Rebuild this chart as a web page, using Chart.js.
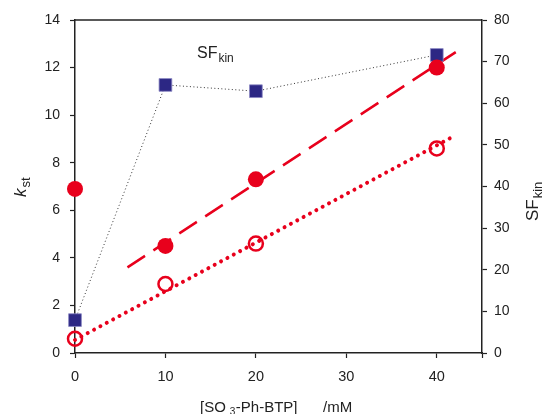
<!DOCTYPE html>
<html>
<head>
<meta charset="utf-8">
<script src="https://cdn.jsdelivr.net/npm/chart.js@4/dist/chart.umd.min.js"></script>
<style>body{margin:0;background:#fff}</style>
</head>
<body>
<canvas id="grafico" width="546" height="414"></canvas>
<script>
// datos
var concentracion = [0, 10, 20, 40];
var kstLleno = [6.9, 4.5, 7.3, 12.0];
var kstVacio = [0.6, 2.9, 4.6, 8.6];
var sfKin = [7.9, 64.4, 62.9, 71.6];
// extremos de las rectas de ajuste
var ajusteLlenoX = [5.8, 42.1];
var ajusteLlenoY = [3.6, 12.65];
var ajusteVacioX = [0, 42.1];
var ajusteVacioY = [0.55, 9.16];

var rojo = "#e8001c";
var azul = "#2c2784";
var fuente = "'Liberation Sans', Arial, sans-serif";

function puntos(xs, ys) {
    return xs.map(function (x, i) { return { x: x, y: ys[i] }; });
}

// texto con subindice
function textoSub(ctx, base, sub, x, y, tamBase, tamSub, baja, cursiva) {
    ctx.font = (cursiva ? "italic " : "") + tamBase + "px " + fuente;
    ctx.fillText(base, x, y);
    var w = ctx.measureText(base).width;
    ctx.font = tamSub + "px " + fuente;
    ctx.fillText(sub, x + w + 1, y + baja);
}

var textos = {
    id: "textos",
    afterDraw: function (chart) {
        var ctx = chart.ctx;
        var area = chart.chartArea;
        ctx.save();
        // linea superior del marco
        ctx.strokeStyle = "#222";
        ctx.lineWidth = 1.5;
        ctx.beginPath();
        ctx.moveTo(area.left, area.top);
        ctx.lineTo(area.right, area.top);
        ctx.stroke();

        ctx.fillStyle = "#222";
        ctx.textBaseline = "alphabetic";
        ctx.textAlign = "left";
        // etiqueta dentro del grafico
        textoSub(ctx, "SF", "kin", 197, 58, 16, 12, 4, false);

        // eje izquierdo
        ctx.save();
        ctx.translate(26, 197);
        ctx.rotate(-Math.PI / 2);
        textoSub(ctx, "k", "st", 0, 0, 17, 13, 4, true);
        ctx.restore();

        // eje derecho
        ctx.save();
        ctx.translate(538, 221);
        ctx.rotate(-Math.PI / 2);
        textoSub(ctx, "SF", "kin", 0, 0, 17, 13, 4, false);
        ctx.restore();

        // eje inferior
        ctx.font = "15px " + fuente;
        ctx.fillText("[SO", 200, 412);
        var w = ctx.measureText("[SO").width;
        ctx.font = "10px " + fuente;
        ctx.fillText("3", 200 + w + 4, 415);
        ctx.font = "15px " + fuente;
        ctx.fillText("-Ph-BTP]", 200 + w + 10, 412);
        ctx.fillText("/mM", 323, 412);
        ctx.restore();
    }
};

function ejeFijo(tam, vertical) {
    return function (scale) {
        if (vertical) scale.width = tam; else scale.height = tam;
    };
}

var contexto = document.getElementById("grafico").getContext("2d");
var grafico = new Chart(contexto, {
    type: "scatter",
    data: {
        datasets: [
            {
                label: "kst lleno",
                data: puntos(concentracion, kstLleno),
                yAxisID: "y",
                backgroundColor: rojo,
                borderColor: rojo,
                pointRadius: 8,
                pointBorderWidth: 0,
                clip: false,
                order: 0,
            },
            {
                label: "kst vacio",
                data: puntos(concentracion, kstVacio),
                yAxisID: "y",
                backgroundColor: "rgba(0,0,0,0)",
                borderColor: rojo,
                pointRadius: 7,
                pointBorderWidth: 2.5,
                clip: false,
                order: 1,
            },
            {
                label: "SFkin",
                data: puntos(concentracion, sfKin),
                yAxisID: "y2",
                showLine: true,
                borderColor: "#333",
                borderWidth: 1,
                borderDash: [1, 2.5],
                pointStyle: "rect",
                pointRadius: 9,
                pointBackgroundColor: azul,
                pointBorderColor: "#8c88c4",
                pointBorderWidth: 0.8,
                clip: false,
                order: 2,
            },
            {
                label: "ajuste lleno",
                data: puntos(ajusteLlenoX, ajusteLlenoY),
                yAxisID: "y",
                showLine: true,
                borderColor: rojo,
                borderWidth: 2.5,
                borderDash: [21, 10],
                pointRadius: 0,
                order: 3,
            },
            {
                label: "ajuste vacio",
                data: puntos(ajusteVacioX, ajusteVacioY),
                yAxisID: "y",
                showLine: true,
                borderColor: rojo,
                borderWidth: 4,
                borderCapStyle: "round",
                borderDash: [0.01, 7.2],
                pointRadius: 0,
                clip: false,
                order: 4,
            },
        ],
    },
    options: {
        responsive: false,
        animation: false,
        layout: { padding: { top: 20, left: 0, right: 0, bottom: 0 } },
        plugins: { legend: { display: false }, tooltip: { enabled: false } },
        scales: {
            x: {
                type: "linear",
                min: 0,
                max: 45,
                afterFit: ejeFijo(61, false),
                grid: { drawOnChartArea: false, tickLength: 5, tickColor: "#222", tickWidth: 1.2 },
                border: { color: "#222", width: 1.5 },
                ticks: {
                    stepSize: 10,
                    padding: 10,
                    color: "#222",
                    font: { family: fuente, size: 14.5 },
                    callback: function (v) { return v <= 40 ? v : ""; },
                },
            },
            y: {
                position: "left",
                min: 0,
                max: 14,
                afterFit: ejeFijo(75, true),
                grid: { drawOnChartArea: false, tickLength: 5, tickColor: "#222", tickWidth: 1.2 },
                border: { color: "#222", width: 1.5 },
                ticks: {
                    stepSize: 2,
                    padding: 10,
                    color: "#222",
                    font: { family: fuente, size: 14 },
                },
            },
            y2: {
                position: "right",
                min: 0,
                max: 80,
                afterFit: ejeFijo(64, true),
                grid: { drawOnChartArea: false, tickLength: 5, tickColor: "#222", tickWidth: 1.2 },
                border: { color: "#222", width: 1.5 },
                ticks: {
                    stepSize: 10,
                    padding: 7,
                    color: "#222",
                    font: { family: fuente, size: 14 },
                },
            },
        },
    },
    plugins: [textos],
});
</script>
</body>
</html>
